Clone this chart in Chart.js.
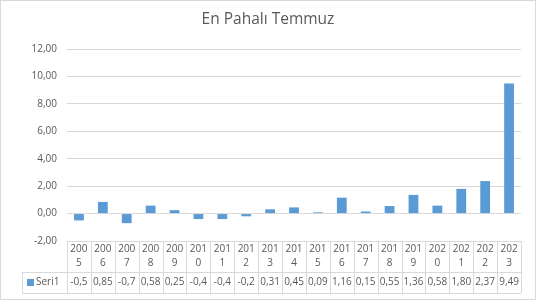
<!DOCTYPE html>
<html>
<head>
<meta charset="utf-8">
<script src="https://cdn.jsdelivr.net/npm/chart.js@4/dist/chart.umd.min.js"></script>
<style>
  html, body { margin: 0; padding: 0; background: #fff; }
  #wrap { width: 536px; height: 300px; position: relative; }
</style>
</head>
<body>
<div id="wrap"><canvas id="chart" width="536" height="300"></canvas></div>
<script>
// Chart data
const chartTitle = 'En Pahalı Temmuz';
const seriesName = 'Seri1';
const years = ['2005', '2006', '2007', '2008', '2009', '2010', '2011', '2012', '2013', '2014',
               '2015', '2016', '2017', '2018', '2019', '2020', '2021', '2022', '2023'];
const values = [-0.5, 0.85, -0.7, 0.58, 0.25, -0.4, -0.4, -0.2, 0.31, 0.45,
                0.09, 1.16, 0.15, 0.55, 1.36, 0.58, 1.80, 2.37, 9.49];
// table shows values as typed in the sheet
const valueLabels = ['-0,5', '0,85', '-0,7', '0,58', '0,25', '-0,4', '-0,4', '-0,2', '0,31', '0,45',
                     '0,09', '1,16', '0,15', '0,55', '1,36', '0,58', '1,80', '2,37', '9,49'];

const barColor = '#5B9BD5';
const textColor = '#595959';
const lineColor = '#d9d9d9';
const fontFamily = '"Open Sans", sans-serif';

// Draws title, outer border and the data table under the plot
const tablePlugin = {
    id: 'dataTable',
    afterDraw(chart) {
        const ctx = chart.ctx;
        const area = chart.chartArea;
        const xs = chart.scales.x;
        const n = years.length;
        const colW = (area.right - area.left) / n;

        const top = area.bottom;
        const mid = top + 31;
        const bottom = mid + 21;
        const legendLeft = 22;

        ctx.save();

        // outer border
        ctx.strokeStyle = lineColor;
        ctx.lineWidth = 1;
        ctx.strokeRect(0.5, 0.5, chart.width - 1, chart.height - 1);

        // title
        ctx.fillStyle = textColor;
        ctx.font = '15.5px ' + fontFamily;
        ctx.textAlign = 'center';
        ctx.textBaseline = 'middle';
        ctx.fillText(chartTitle, chart.width / 2, 20);

        // table grid
        ctx.strokeStyle = lineColor;
        ctx.beginPath();
        ctx.moveTo(area.left, Math.round(top) + 0.5);
        ctx.lineTo(area.right, Math.round(top) + 0.5);
        ctx.moveTo(legendLeft, Math.round(mid) + 0.5);
        ctx.lineTo(area.right, Math.round(mid) + 0.5);
        ctx.moveTo(legendLeft, Math.round(bottom) + 0.5);
        ctx.lineTo(area.right, Math.round(bottom) + 0.5);
        for (let i = 0; i <= n; i++) {
            const x = Math.round(area.left + i * colW) + 0.5;
            ctx.moveTo(x, top);
            ctx.lineTo(x, bottom);
        }
        ctx.moveTo(legendLeft + 0.5, mid);
        ctx.lineTo(legendLeft + 0.5, bottom);
        ctx.stroke();

        // cell texts
        ctx.fillStyle = textColor;
        ctx.font = '10px ' + fontFamily;
        ctx.textAlign = 'center';
        ctx.textBaseline = 'middle';
        years.forEach((y, i) => {
            const cx = xs.getPixelForValue(i);
            ctx.fillText(y.slice(0, 3), cx, top + 8);
            ctx.fillText(y.slice(3), cx, top + 22);
            ctx.fillText(valueLabels[i], cx, mid + 10.5);
        });

        // legend key
        ctx.fillStyle = barColor;
        ctx.fillRect(27, mid + 7, 7, 7);
        ctx.fillStyle = textColor;
        ctx.textAlign = 'left';
        ctx.fillText(seriesName, 36, mid + 10.5);

        ctx.restore();
    }
};

const chart = new Chart(document.getElementById('chart').getContext('2d'), {
    type: 'bar',
    data: {
        labels: years,
        datasets: [{
            label: seriesName,
            data: values,
            backgroundColor: barColor,
            barPercentage: 0.41,
            categoryPercentage: 1.0
        }]
    },
    options: {
        responsive: false,
        animation: false,
        layout: {
            padding: { left: 0, right: 15, top: 49, bottom: 59 }
        },
        plugins: {
            legend: { display: false },
            title: { display: false },
            tooltip: { enabled: false }
        },
        scales: {
            x: {
                display: false
            },
            y: {
                min: -2,
                max: 12,
                afterFit: scale => { scale.width = 67; },
                border: { display: false },
                grid: { color: lineColor, drawTicks: false },
                ticks: {
                    stepSize: 2,
                    padding: 10,
                    color: textColor,
                    font: { family: fontFamily, size: 10 },
                    callback: v => v.toFixed(2).replace('.', ',')
                }
            }
        }
    },
    plugins: [tablePlugin]
});
</script>
</body>
</html>
